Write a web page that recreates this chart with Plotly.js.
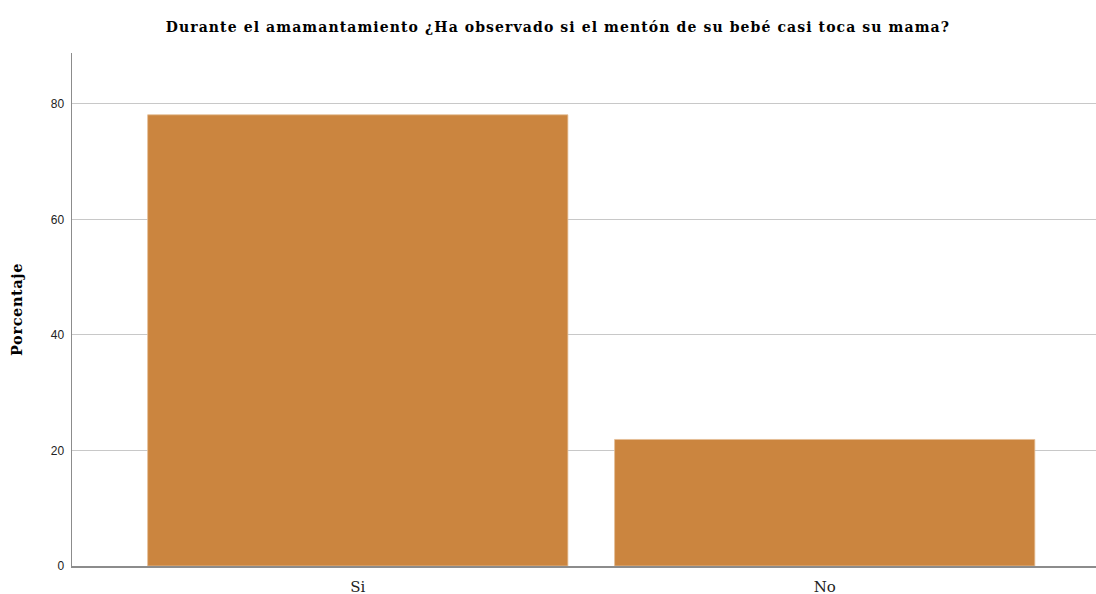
<!DOCTYPE html>
<html>
<head>
<meta charset="utf-8">
<script src="https://cdn.plot.ly/plotly-3.0.1.min.js"></script>
<style>
  html, body { margin: 0; padding: 0; background: #fff; }
  #chart { width: 1096px; height: 594px; }
  .gtitle { letter-spacing: 1.1px; }
  .ytitle { letter-spacing: 0.6px; }
</style>
</head>
<body>
<div id="chart"></div>
<script>
var categorias = ['Si', 'No'];
var porcentajes = [78.1, 21.9];
var tickValores = [0, 20, 40, 60, 80];

function drawChart(target) {
    var trace = {
        type: 'bar',
        x: [0, 1],
        y: porcentajes,
        width: 0.9,
        marker: {
            color: 'rgb(203, 133, 63)',
            line: { color: 'rgb(228, 190, 150)', width: 0.8 }
        },
        hoverinfo: 'none'
    };

    var layout = {
        width: 1096,
        height: 594,
        margin: { l: 72, r: 0, t: 53, b: 28 },
        paper_bgcolor: '#ffffff',
        plot_bgcolor: '#ffffff',
        showlegend: false,
        title: {
            text: 'Durante el amamantamiento ¿Ha observado si el mentón de su bebé casi toca su mama?',
            font: { family: 'DejaVu Serif', size: 14, color: '#000', weight: 'bold' },
            x: 0.509,
            xanchor: 'center',
            y: 0.955,
            yanchor: 'middle'
        },
        xaxis: {
            range: [-0.612, 1.581],
            tickvals: [0, 1],
            ticktext: categorias,
            tickfont: { family: 'DejaVu Serif', size: 15, color: '#222' },
            showline: true,
            linecolor: '#8c8c8c',
            linewidth: 1.5,
            showgrid: false,
            zeroline: false,
            ticks: '',
            ticklabelstandoff: 6
        },
        yaxis: {
            range: [0, 88.8],
            tickvals: tickValores,
            ticktext: tickValores.map(String),
            tickfont: { family: 'Liberation Sans', size: 12, color: '#222' },
            showline: true,
            linecolor: '#8c8c8c',
            linewidth: 1.5,
            showgrid: true,
            gridcolor: '#c8c8c8',
            gridwidth: 1,
            zeroline: false,
            ticks: '',
            ticklabelstandoff: 4,
            title: {
                text: 'Porcentaje',
                font: { family: 'DejaVu Serif', size: 14.5, color: '#000', weight: 'bold' },
                standoff: 24
            }
        }
    };

    Plotly.newPlot(target, [trace], layout, { displayModeBar: false, staticPlot: true });
}

drawChart('chart');
</script>
</body>
</html>
